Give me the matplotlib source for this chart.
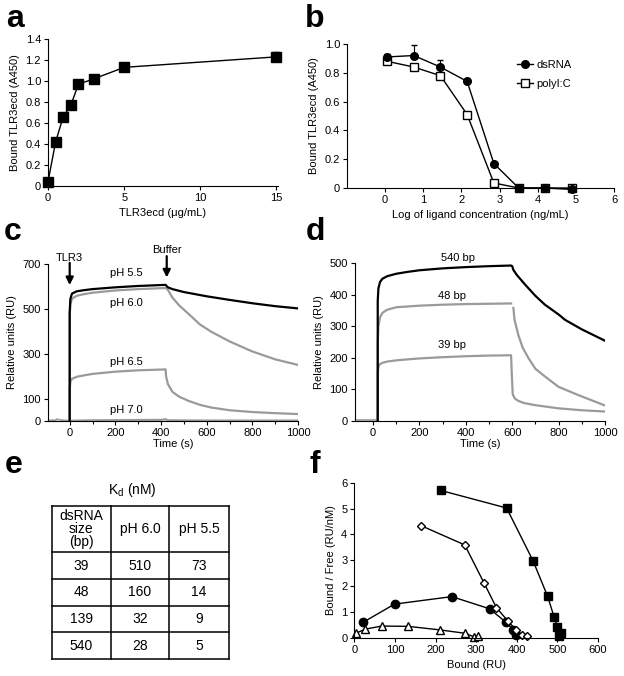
import matplotlib
matplotlib.use("Agg")
import matplotlib.pyplot as plt
import numpy as np
from matplotlib.lines import Line2D
from matplotlib.ticker import FuncFormatter, MultipleLocator

plt.rcParams['font.family'] = ['Liberation Sans', 'DejaVu Sans']
plt.rcParams['font.size'] = 8

W, H = 624, 676
GRAY = '#9a9a9a'

# ---- panel a: binding titration ----
a_conc = [0, 0.5, 1, 1.5, 2, 3, 5, 15]
a_bound = [0.04, 0.42, 0.66, 0.77, 0.97, 1.02, 1.13, 1.23]
a_err = [0, 0, 0, 0, 0.04, 0.02, 0.01, 0.05]

# ---- panel b: competition ----
b_logc = [0.05, 0.75, 1.45, 2.15, 2.85, 3.5, 4.2, 4.9]
b_dsrna = [0.91, 0.92, 0.84, 0.74, 0.17, 0.0, 0.0, -0.01]
b_dsrna_err = [0.02, 0.07, 0.05, 0.01, 0, 0, 0, 0]
b_polyic = [0.88, 0.84, 0.78, 0.51, 0.035, 0.0, 0.0, 0.0]

# ---- panel c: sensorgrams at different pH ----
c_base_t = [-95, -60, -58, -30, 0]
c_base_y = [3, 4, 8, 3, 2]
c55_t = [0, 0, 3, 10, 30, 60, 100, 200, 300, 420, 430, 450, 500, 600, 700, 800, 900, 1000]
c55_y = [0, 485, 545, 568, 578, 583, 588, 596, 602, 607, 596, 588, 575, 556, 540, 525, 512, 502]
c60_t = [0, 0, 3, 10, 30, 60, 100, 200, 300, 420, 430, 450, 480, 520, 571, 620, 700, 800, 900, 1000]
c60_y = [0, 470, 520, 545, 558, 565, 572, 582, 588, 593, 585, 550, 515, 478, 430, 398, 355, 310, 275, 250]
c65_t = [0, 0, 3, 10, 30, 60, 100, 200, 300, 420, 422, 430, 450, 480, 520, 571, 620, 700, 800, 900, 1000]
c65_y = [0, 140, 175, 188, 197, 203, 210, 220, 226, 230, 200, 165, 130, 108, 90, 72, 60, 48, 40, 35, 31]
c70_t = [0, 100, 400, 420, 430, 600, 1000]
c70_y = [1, 3, 5, 8, 3, 2, 2]

# ---- panel d: sensorgrams for dsRNA lengths ----
d_base_t = [-75, 20]
d_base_y = [3, 3]
d540_t = [20, 20, 23, 30, 40, 60, 100, 150, 200, 300, 400, 500, 595, 600, 605, 620, 655, 700, 741, 800, 828, 900, 1000]
d540_y = [0, 380, 420, 440, 450, 458, 466, 472, 477, 483, 487, 490, 492, 490, 478, 462, 432, 396, 368, 337, 320, 290, 254]
d48a_t = [20, 20, 23, 30, 40, 60, 100, 200, 300, 400, 500, 595]
d48a_y = [0, 250, 300, 328, 342, 352, 360, 365, 368, 370, 371, 372]
d48b_t = [605, 610, 626, 645, 670, 700, 741, 800, 885, 1000]
d48b_y = [358, 320, 273, 232, 199, 165, 141, 108, 82, 49]
d39_t = [20, 20, 23, 30, 40, 60, 100, 200, 300, 400, 500, 595, 598, 602, 610, 625, 650, 700, 800, 900, 1000]
d39_y = [0, 150, 172, 180, 184, 188, 192, 198, 202, 205, 207, 208, 150, 85, 72, 64, 57, 50, 40, 34, 30]

# ---- panel e: Kd table ----
e_sizes = ['39', '48', '139', '540']
e_ph60 = ['510', '160', '32', '28']
e_ph55 = ['73', '14', '9', '5']

# ---- panel f: Scatchard plots ----
f_sq_x = [213, 375, 440, 476, 492, 500, 503, 510]
f_sq_y = [5.7, 5.02, 2.98, 1.60, 0.80, 0.42, 0.08, 0.2]
f_di_x = [164, 272, 320, 350, 378, 398, 412, 426]
f_di_y = [4.34, 3.59, 2.10, 1.16, 0.65, 0.30, 0.12, 0.06]
f_ci_x = [21, 99, 240, 333, 374, 391, 399]
f_ci_y = [0.59, 1.30, 1.59, 1.12, 0.59, 0.31, 0.12]
f_tr_x = [5, 27, 67, 132, 212, 273, 295, 304]
f_tr_y = [0.18, 0.33, 0.45, 0.44, 0.30, 0.17, 0.03, 0.06]


def box(l, t, r, b):
    return [l / W, 1 - b / H, (r - l) / W, (b - t) / H]


def style(ax):
    for s in ('top', 'right'):
        ax.spines[s].set_visible(False)
    for s in ('left', 'bottom'):
        ax.spines[s].set_linewidth(0.8)
    ax.tick_params(direction='out', length=3, width=0.8, pad=2, labelsize=8)
    ax.tick_params(which='minor', direction='out', length=2, width=0.8)


zero_fmt = FuncFormatter(lambda v, _: '0' if abs(v) < 1e-9 else f'{v:.1f}')

fig = plt.figure(figsize=(W / 100, H / 100), dpi=100)

# panel a
ax = fig.add_axes(box(48, 39, 278, 186))
style(ax)
ax.errorbar(a_conc, a_bound, yerr=[np.zeros(len(a_err)), a_err], color='black',
            marker='s', ms=6.5, lw=1, capsize=2, elinewidth=0.8, clip_on=False)
ax.set_xlim(0, 15.1)
ax.set_ylim(0, 1.4)
ax.set_xticks([0, 5, 10, 15])
ax.set_yticks(np.arange(0, 1.41, 0.2))
ax.yaxis.set_major_formatter(zero_fmt)
ax.set_xlabel('TLR3ecd (\u03bcg/mL)')
ax.set_ylabel('Bound TLR3ecd (A450)')

# panel b
ax = fig.add_axes(box(347, 44, 614, 188))
style(ax)
ax.errorbar(b_logc, b_dsrna, yerr=[np.zeros(len(b_dsrna_err)), b_dsrna_err], color='black',
            marker='o', ms=5.5, lw=1, capsize=2, elinewidth=0.8, clip_on=False)
ax.plot(b_logc, b_polyic, color='black', marker='s', ms=6, mfc='white', mec='black',
        lw=1, clip_on=False)
ax.set_xlim(-1, 6)
ax.set_ylim(0, 1.0)
ax.set_xticks(range(0, 7))
ax.set_yticks(np.arange(0, 1.01, 0.2))
ax.yaxis.set_major_formatter(zero_fmt)
ax.set_xlabel('Log of ligand concentration (ng/mL)')
ax.set_ylabel('Bound TLR3ecd (A450)')
handles = [Line2D([], [], color='black', marker='o', ms=5.5, lw=1),
           Line2D([], [], color='black', marker='s', ms=6, mfc='white', lw=1)]
ax.legend(handles, ['dsRNA', 'polyI:C'], loc='upper left', bbox_to_anchor=(0.6, 0.96),
          frameon=False, handlelength=1.4, handletextpad=0.3, labelspacing=0.8, fontsize=8)

# panel c
ax = fig.add_axes(box(48, 264, 298, 421))
style(ax)
ax.plot(c_base_t, c_base_y, color=GRAY, lw=1.2)
ax.plot(c70_t, c70_y, color=GRAY, lw=1.6)
ax.plot(c65_t, c65_y, color=GRAY, lw=1.6)
ax.plot(c60_t, c60_y, color=GRAY, lw=1.6)
ax.plot(c55_t, c55_y, color='black', lw=1.6)
ax.set_xlim(-95, 1000)
ax.set_ylim(0, 700)
ax.set_xticks(range(0, 1001, 200))
ax.xaxis.set_minor_locator(MultipleLocator(100))
ax.set_yticks([0, 100, 300, 500, 700])
ax.set_xlabel('Time (s)', labelpad=1)
ax.set_ylabel('Relative units (RU)')
for txt, x, y in [('pH 5.5', 250, 660), ('pH 6.0', 250, 528), ('pH 6.5', 250, 263), ('pH 7.0', 250, 48)]:
    ax.text(x, y, txt, ha='center', va='center', fontsize=8)
arrow = dict(arrowstyle='-|>', lw=1.6, color='black', mutation_scale=11, shrinkA=0, shrinkB=0)
ax.annotate('', xy=(0, 606), xytext=(0, 705), arrowprops=arrow, annotation_clip=False)
ax.text(0, 728, 'TLR3', ha='center', va='center', fontsize=8)
ax.annotate('', xy=(425, 640), xytext=(425, 735), arrowprops=arrow, annotation_clip=False)
ax.text(425, 762, 'Buffer', ha='center', va='center', fontsize=8)

# panel d
ax = fig.add_axes(box(355, 263, 605, 421))
style(ax)
ax.plot(d_base_t, d_base_y, color=GRAY, lw=1.2)
ax.plot(d39_t, d39_y, color=GRAY, lw=1.6)
ax.plot(d48a_t, d48a_y, color=GRAY, lw=1.6)
ax.plot(d48b_t, d48b_y, color=GRAY, lw=1.6)
ax.plot(d540_t, d540_y, color='black', lw=1.6)
ax.set_xlim(-78, 1000)
ax.set_ylim(0, 500)
ax.set_xticks(range(0, 1001, 200))
ax.xaxis.set_minor_locator(MultipleLocator(100))
ax.set_yticks(range(0, 501, 100))
ax.set_xlabel('Time (s)', labelpad=1)
ax.set_ylabel('Relative units (RU)')
for txt, x, y in [('540 bp', 368, 516), ('48 bp', 339, 397), ('39 bp', 339, 239)]:
    ax.text(x, y, txt, ha='center', va='center', fontsize=8)

# panel e: table drawn in pixel coordinates
ax = fig.add_axes(box(0, 455, 312, 676))
ax.set_xlim(0, 312)
ax.set_ylim(676, 455)
ax.axis('off')
cols = [52, 110.7, 169.3, 229]
rows = [506, 552, 579, 606, 632, 659]
for x in cols:
    ax.plot([x, x], [rows[0], rows[-1]], color='black', lw=1.1, solid_capstyle='projecting')
for y in rows:
    ax.plot([cols[0], cols[-1]], [y, y], color='black', lw=1.1, solid_capstyle='projecting')
ax.text(132, 490, 'K$_\\mathregular{d}$ (nM)', ha='center', va='center', fontsize=10)
hy = (rows[0] + rows[1]) / 2
ax.text((cols[0] + cols[1]) / 2, hy, 'dsRNA\nsize\n(bp)', ha='center', va='center',
        fontsize=10, linespacing=0.9)
ax.text((cols[1] + cols[2]) / 2, hy, 'pH 6.0', ha='center', va='center', fontsize=10)
ax.text((cols[2] + cols[3]) / 2, hy, 'pH 5.5', ha='center', va='center', fontsize=10)
for i, (s, v60, v55) in enumerate(zip(e_sizes, e_ph60, e_ph55)):
    y = (rows[i + 1] + rows[i + 2]) / 2
    ax.text((cols[0] + cols[1]) / 2, y, s, ha='center', va='center', fontsize=10)
    ax.text((cols[1] + cols[2]) / 2, y, v60, ha='center', va='center', fontsize=10)
    ax.text((cols[2] + cols[3]) / 2, y, v55, ha='center', va='center', fontsize=10)

# panel f
ax = fig.add_axes(box(354.3, 482.7, 598, 637.7))
style(ax)
ax.plot(f_tr_x, f_tr_y, color='black', marker='^', ms=6, mfc='white', mec='black', lw=1, clip_on=False)
ax.plot(f_ci_x, f_ci_y, color='black', marker='o', ms=6, lw=1, clip_on=False)
ax.plot(f_di_x, f_di_y, color='black', marker='D', ms=4.5, mfc='white', mec='black', lw=1, clip_on=False)
ax.plot(f_sq_x, f_sq_y, color='black', marker='s', ms=5.5, lw=1, clip_on=False)
ax.set_xlim(0, 600)
ax.set_ylim(0, 6)
ax.set_xticks(range(0, 601, 100))
ax.set_yticks(range(0, 7))
ax.set_xlabel('Bound (RU)')
ax.set_ylabel('Bound / Free (RU/nM)')

# panel letters
for letter, x, y in [('a', 6, 27), ('b', 305, 27), ('c', 4, 240), ('d', 306, 240),
                     ('e', 5, 473), ('f', 310, 473)]:
    fig.text(x / W, 1 - y / H, letter, fontsize=23, fontweight='bold', va='baseline', ha='left')

fig.savefig('out.png', dpi=100)
